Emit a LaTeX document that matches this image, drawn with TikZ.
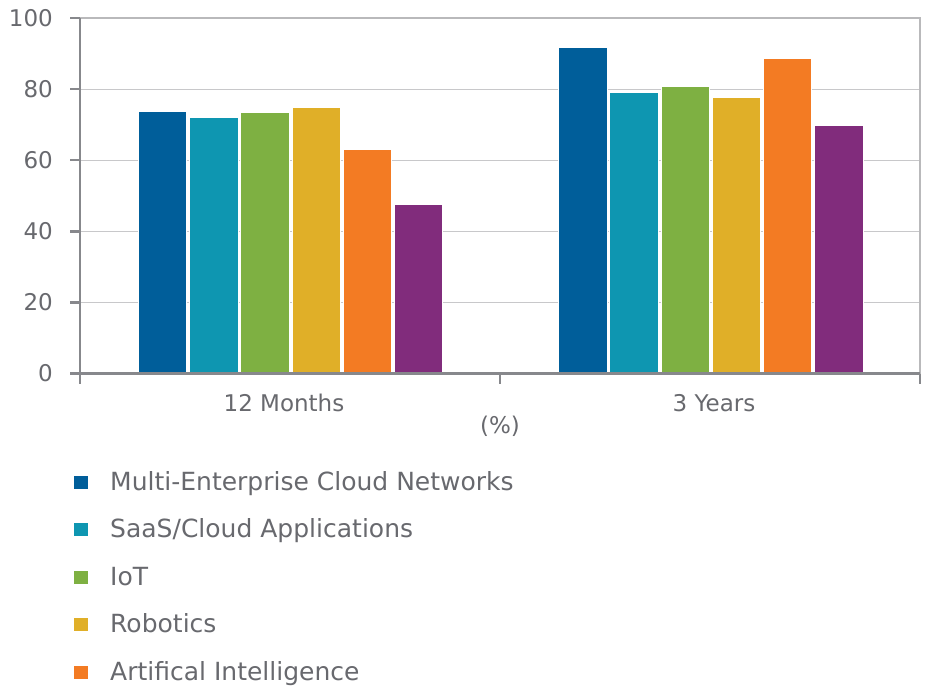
\documentclass[tikz,border=0pt]{standalone}
\usepackage{fontspec}
\setmainfont{DejaVu Sans}
\definecolor{sBlue}{RGB}{0,94,154}
\definecolor{sTeal}{RGB}{14,150,177}
\definecolor{sGreen}{RGB}{126,176,66}
\definecolor{sGold}{RGB}{224,175,40}
\definecolor{sOrange}{RGB}{243,123,35}
\definecolor{sPurple}{RGB}{129,44,124}
\definecolor{axisgray}{RGB}{135,136,140}
\definecolor{framegray}{RGB}{185,185,187}
\definecolor{gridgray}{RGB}{200,200,202}
\definecolor{txtgray}{RGB}{104,105,110}
\begin{document}
\begin{tikzpicture}[x=1pt,y=-1pt,
  lbl/.style={inner sep=0pt,text=txtgray,font=\fontsize{23}{27}\selectfont},
  leglbl/.style={inner sep=0pt,text=txtgray,font=\fontsize{25}{29}\selectfont,anchor=base west},
  bar/.style={draw=white,line width=0.8pt},
  axisline/.style={draw=axisgray,line width=2.5pt},
  gridline/.style={draw=gridgray,line width=1.2pt},
  frameline/.style={draw=framegray,line width=2.2pt}]
\useasboundingbox (0,0) rectangle (929,689);
% gridlines
\foreach \v in {20,40,60,80}
  \draw[gridline] (80,373.5-3.555*\v) -- (920,373.5-3.555*\v);
% frame on top and right
\draw[frameline] (80,18) -- (920,18) -- (920,373.5);
% bars: 12 Months
\foreach \v/\c [count=\i from 0] in {73.8/sBlue,72.1/sTeal,73.4/sGreen,74.9/sGold,62.9/sOrange,47.7/sPurple}
  \filldraw[bar,fill=\c] (290.5-152.2+\i*51.2,373.5) rectangle ++(48.4,-3.555*\v);
% bars: 3 Years
\foreach \v/\c [count=\i from 0] in {91.8/sBlue,79.0/sTeal,80.9/sGreen,77.6/sGold,88.7/sOrange,69.7/sPurple}
  \filldraw[bar,fill=\c] (710.8-152.2+\i*51.2,373.5) rectangle ++(48.4,-3.555*\v);
% value axis with ticks and labels
\draw[axisline] (80,18) -- (80,373.5);
\foreach \v in {0,20,...,100} {
  \draw[axisline] (70,373.5-3.555*\v) -- (80,373.5-3.555*\v);
  \node[lbl,anchor=east] (y\v) at (53,373.5-3.555*\v) {\v};
}
% category axis
\draw[axisline] (70,373.5) -- (920,373.5);
\foreach \x in {80,500,920}
  \draw[axisline] (\x,373.5) -- (\x,384);
\node[lbl,anchor=base] (c1) at (284,411.7) {12 Months};
\node[lbl,anchor=base] (c2) at (714,411.7) {3 Years};
\node[lbl,anchor=base] (unit) at (500,433.3) {(\%)};
% legend
\foreach \t/\c/\b [count=\i] in {{Multi-Enterprise Cloud Networks}/sBlue/490,{SaaS/Cloud Applications}/sTeal/537,{IoT}/sGreen/585,{Robotics}/sGold/632,{Artifical Intelligence}/sOrange/680} {
  \filldraw[bar,fill=\c,line width=0.5pt] (73,\b-15) rectangle (88,\b-1);
  \node[leglbl] (leg\i) at (110,\b) {\t};
}
\end{tikzpicture}
\end{document}
